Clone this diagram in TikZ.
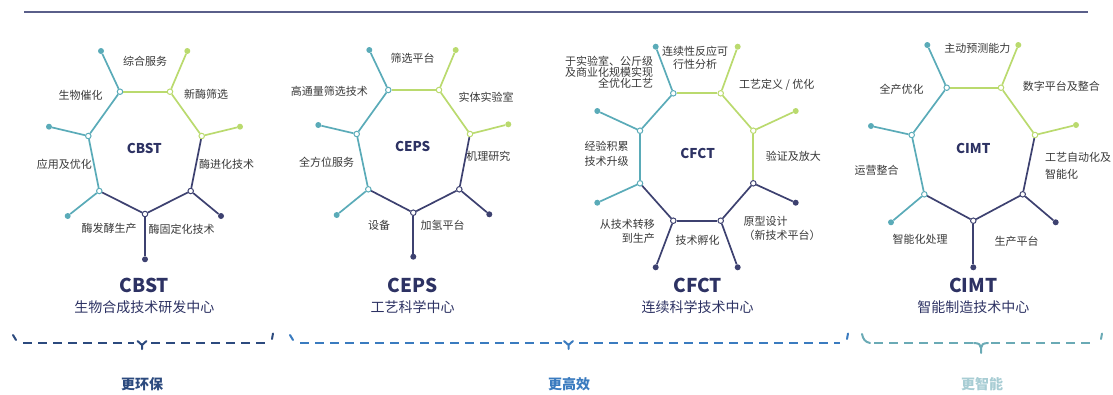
\documentclass[tikz,border=0pt]{standalone}
\usepackage{fontspec}
\setmainfont{Noto Sans CJK SC}
\definecolor{cteal}{HTML}{5AABB8}
\definecolor{cgreen}{HTML}{BADA6E}
\definecolor{cnavy}{HTML}{3D4170}
\definecolor{ctitle}{HTML}{2D3263}
\definecolor{clabel}{HTML}{383838}
\definecolor{cline}{HTML}{5A5F8A}
\definecolor{bra}{HTML}{2C4A7E}
\definecolor{brb}{HTML}{3A7BBF}
\definecolor{brc}{HTML}{6AAAB5}
\definecolor{lbc}{HTML}{A8CDD4}
\tikzset{
  edge/.style={line width=1.7pt},
  vtx/.style={circle, inner sep=0pt, minimum size=5.5pt, draw, fill=white, line width=1pt},
  tipdot/.style={circle, inner sep=0pt, minimum size=6pt},
  lbl/.style={font=\fontsize{11}{12}\selectfont, text=clabel, inner sep=0pt},
  ctr/.style={font=\bfseries\fontsize{13.5}{14}\selectfont, text=ctitle, inner sep=0pt},
  ttl/.style={font=\bfseries\fontsize{19}{20}\selectfont, text=ctitle, inner sep=0pt},
  sub/.style={font=\fontsize{14}{15}\selectfont, text=ctitle, inner sep=0pt},
  bdash/.style={line width=2pt, dash pattern=on 9pt off 6pt},
  bsolid/.style={line width=2pt, line cap=round, line join=round},
  blbl/.style={font=\bfseries\fontsize{14}{15}\selectfont, inner sep=0pt}
}
\begin{document}
\begin{tikzpicture}[x=1pt, y=-1pt]
\useasboundingbox (0,0) rectangle (1113,394);
% top rule
\coordinate (ruleL) at (24,12);
\coordinate (ruleR) at (1088,12);
\draw[cline, line width=1.6pt] (ruleL) -- (ruleR);

% ---------- vertices ----------
\foreach \n/\x/\y/\c in {
  a1/120/91.7/cteal, a2/170/91.7/cgreen, a3/201.7/136/cgreen, a4/190.7/191/cnavy,
  a5/145/214/cnavy, a6/99.3/191/cteal, a7/88.3/136/cteal,
  b1/388.3/90/cteal, b2/439/90/cgreen, b3/470/134/cgreen, b4/459.3/189.3/cnavy,
  b5/413.3/212.7/cnavy, b6/368.3/189.3/cteal, b7/356.7/134/cteal,
  c1/673.3/93.3/cteal, c2/720.7/93.3/cgreen, c3/753.3/130.7/cgreen, c4/753.3/183.3/cnavy,
  c5/720.7/220.7/cnavy, c6/673.3/220.7/cnavy, c7/640/183.3/cteal, c8/640/130.7/cteal,
  d1/946.7/87.7/cteal, d2/1001/87.7/cgreen, d3/1035/135/cgreen, d4/1022.7/194.3/cnavy,
  d5/973.3/220.7/cnavy, d6/924.3/194.3/cteal, d7/911.7/135/cteal}
  {\node[vtx, draw=\c] (\n) at (\x,\y) {};}

% ---------- spoke end dots ----------
\foreach \n/\x/\y/\c in {
  a1d/101/51/cteal, a2d/187.3/51/cgreen, a3d/240/126.7/cgreen, a4d/221/216/cnavy,
  a5d/145/259.3/cnavy, a6d/67.7/216/cteal, a7d/49/126.7/cteal,
  b1d/369.3/50/cteal, b2d/455.7/50/cgreen, b3d/508.3/124.3/cgreen, b4d/489.3/214.3/cnavy,
  b5d/413.3/256.7/cnavy, b6d/336.7/215/cteal, b7d/318.3/125/cteal,
  c1d/655.7/46.7/cteal, c2d/737.7/46.7/cgreen, c3d/795.7/111/cgreen, c4d/795.7/202.7/cnavy,
  c5d/737.7/267.3/cnavy, c6d/655.7/267.3/cnavy, c7d/597.3/202.7/cteal, c8d/597.3/111/cteal,
  d1d/927.3/45/cteal, d2d/1018.3/45/cgreen, d3d/1076/125/cgreen, d4d/1055.7/222.3/cnavy,
  d5d/973.3/267.3/cnavy, d6d/891/222.3/cteal, d7d/871/126/cteal}
  {\node[tipdot, fill=\c] (\n) at (\x,\y) {};}

% ---------- heptagon edges + spokes ----------
\foreach \p in {a,b,d}{
  \draw[edge, cgreen] (\p1) -- (\p2);
  \draw[edge, cgreen] (\p2) -- (\p3);
  \draw[edge, cnavy] (\p3) -- (\p4);
  \draw[edge, cnavy] (\p4) -- (\p5);
  \draw[edge, cnavy] (\p5) -- (\p6);
  \draw[edge, cteal] (\p6) -- (\p7);
  \draw[edge, cteal] (\p7) -- (\p1);
  \draw[edge, cteal] (\p1) -- (\p1d);
  \draw[edge, cgreen] (\p2) -- (\p2d);
  \draw[edge, cgreen] (\p3) -- (\p3d);
  \draw[edge, cnavy] (\p4) -- (\p4d);
  \draw[edge, cnavy] (\p5) -- (\p5d);
  \draw[edge, cteal] (\p6) -- (\p6d);
  \draw[edge, cteal] (\p7) -- (\p7d);
}
% octagon
\draw[edge, cgreen] (c1) -- (c2);
\draw[edge, cgreen] (c2) -- (c3);
\draw[edge, cgreen] (c3) -- (c4);
\draw[edge, cnavy] (c4) -- (c5);
\draw[edge, cnavy] (c5) -- (c6);
\draw[edge, cnavy] (c6) -- (c7);
\draw[edge, cteal] (c7) -- (c8);
\draw[edge, cteal] (c8) -- (c1);
\draw[edge, cteal] (c1) -- (c1d);
\draw[edge, cgreen] (c2) -- (c2d);
\draw[edge, cgreen] (c3) -- (c3d);
\draw[edge, cnavy] (c4) -- (c4d);
\draw[edge, cnavy] (c5) -- (c5d);
\draw[edge, cnavy] (c6) -- (c6d);
\draw[edge, cteal] (c7) -- (c7d);
\draw[edge, cteal] (c8) -- (c8d);

% ---------- CBST ----------
\node[lbl] (la1) at (145,61.7) {综合服务};
\node[lbl] (la2) at (206,94.3) {新酶筛选};
\node[lbl] (la3) at (80.7,95) {生物催化};
\node[lbl] (la4) at (64.3,164.3) {应用及优化};
\node[lbl] (la5) at (226.7,164.3) {酶进化技术};
\node[lbl] (la6) at (109,228.3) {酶发酵生产};
\node[lbl] (la7) at (181.7,229) {酶固定化技术};
\node[ctr] (ca) at (144.3,148.3) {CBST};
\node[ttl] (ta) at (144.3,285) {CBST};
\node[sub] (sa) at (144.3,307.3) {生物合成技术研发中心};

% ---------- CEPS ----------
\node[lbl] (lb1) at (412.7,58.3) {筛选平台};
\node[lbl] (lb2) at (486,97.7) {实体实验室};
\node[lbl] (lb3) at (329.3,91.7) {高通量筛选技术};
\node[lbl] (lb4) at (326.7,162.7) {全方位服务};
\node[lbl] (lb5) at (488.3,156) {机理研究};
\node[lbl] (lb6) at (379,225) {设备};
\node[lbl] (lb7) at (442.7,225) {加氢平台};
\node[ctr] (cb) at (412.7,146.7) {CEPS};
\node[ttl] (tb) at (412.7,285) {CEPS};
\node[sub] (sb) at (412.7,306.7) {工艺科学中心};

% ---------- CFCT ----------
\node[lbl, align=center, font=\fontsize{11}{13.3}\selectfont] (lc1) at (695,57.7) {连续性反应可\\行性分析};
\node[lbl, align=right, anchor=east, font=\fontsize{11}{10.9}\selectfont] (lc2) at (653.3,72.5) {于实验室、公斤级\\及商业化规模实现\\全优化工艺};
\node[lbl] (lc3) at (776.7,85) {工艺定义 / 优化};
\node[lbl, align=center, font=\fontsize{11}{15}\selectfont] (lc4) at (606.7,154.2) {经验积累\\技术升级};
\node[lbl] (lc5) at (793.3,156) {验证及放大};
\node[lbl, align=right, anchor=east, font=\fontsize{11}{14}\selectfont] (lc6) at (655,231.3) {从技术转移\\到生产};
\node[lbl] (lc7) at (697.7,240) {技术孵化};
\node[lbl, align=left, anchor=west, font=\fontsize{11}{14}\selectfont] (lc8) at (743.3,228) {原型设计\\（新技术平台）};
\node[ctr] (cc) at (697.7,153.3) {CFCT};
\node[ttl] (tc) at (697.7,285) {CFCT};
\node[sub] (sc) at (697.7,306.7) {连续科学技术中心};

% ---------- CIMT ----------
\node[lbl] (ld1) at (977.3,48.3) {主动预测能力};
\node[lbl, anchor=west] (ld2) at (1022.7,86.7) {数字平台及整合};
\node[lbl] (ld3) at (901.7,89.3) {全产优化};
\node[lbl] (ld4) at (876.7,170) {运营整合};
\node[lbl, align=left, anchor=west, font=\fontsize{11}{16.5}\selectfont] (ld5) at (1045,166) {工艺自动化及\\智能化};
\node[lbl] (ld6) at (920,239) {智能化处理};
\node[lbl] (ld7) at (1016.7,241.7) {生产平台};
\node[ctr] (cd) at (973.3,148.3) {CIMT};
\node[ttl] (td) at (973.3,285) {CIMT};
\node[sub] (sd) at (973.3,306.7) {智能制造技术中心};

% ---------- bottom braces (drawn as shapes) ----------
% brace 1
\draw[bsolid, bra] (13,335) -- (16,340);
\draw[bdash, bra] (23,343) -- (134,343);
\draw[bsolid, bra] (137.5,341) -- (142,345) -- (146.5,341) (142,345) -- (142,349);
\draw[bdash, bra] (151,343) -- (265,343);
\draw[bsolid, bra] (273,333.5) -- (272,339);
% brace 2
\draw[bsolid, brb] (290,335) -- (293,340);
\draw[bdash, brb] (300,343) -- (562,343);
\draw[bsolid, brb] (564,341) -- (568.5,345) -- (573,341) (568.5,345) -- (568.5,349);
\draw[bdash, brb] (579,343) -- (840,343);
\draw[bsolid, brb] (848,333.5) -- (847,339);
% brace 3
\draw[bsolid, brc] (862,334) .. controls (863,339) and (865,342) .. (870,343);
\draw[bdash, brc] (874,343) -- (973,343);
\draw[bsolid, brc] (974,343) .. controls (979,343) and (981,345) .. (981,348) -- (981,353)
                   (981,348) .. controls (981,345) and (983,343) .. (988,343);
\draw[bdash, brc] (991,343) -- (1095,343);
\draw[bsolid, brc] (1102,333.5) -- (1101,339);
\node[blbl, text=bra] (bla) at (142,384) {更环保};
\node[blbl, text=brb] (blb) at (569,384) {更高效};
\node[blbl, text=lbc] (blc) at (982,384) {更智能};
\end{tikzpicture}
\end{document}
